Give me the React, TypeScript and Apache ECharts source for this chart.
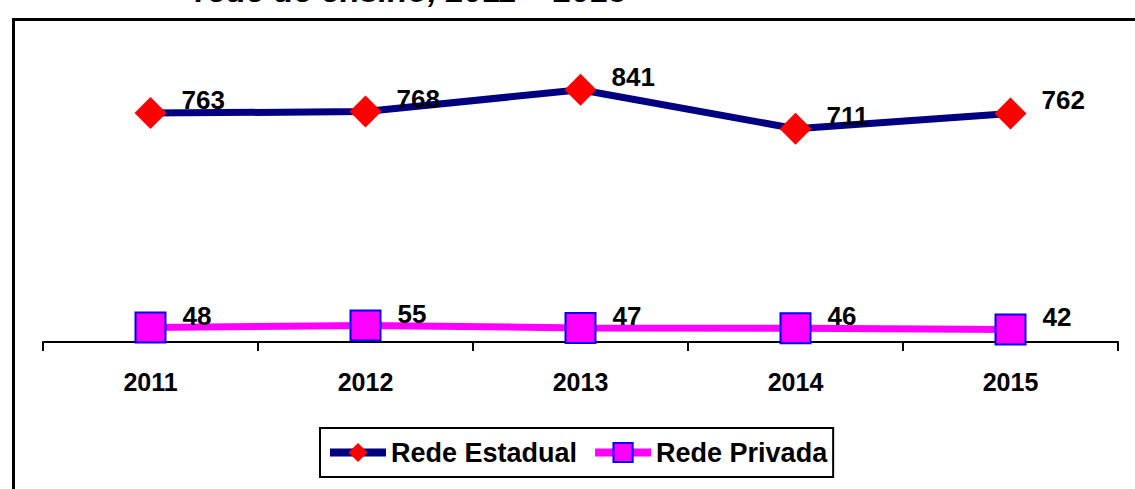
import React, { useEffect, useRef } from "react";
import * as echarts from "echarts";

const years = ["2011", "2012", "2013", "2014", "2015"];
const redeEstadual = [763, 768, 841, 711, 762];
const redePrivada = [48, 55, 47, 46, 42];
const seriesNames = ["Rede Estadual", "Rede Privada"];
const titleText = "rede de ensino, 2011 – 2015";

export default function App() {
  const ref = useRef<HTMLDivElement>(null);
  useEffect(() => {
    if (!ref.current) return;
    const chart = echarts.init(ref.current, null, { renderer: "svg" });
    const labelFont = {
      fontFamily: "Arial, 'Liberation Sans', sans-serif",
      fontWeight: "bold" as const,
      fontSize: 26,
      color: "#000",
    };
    chart.setOption({
      animation: false,
      backgroundColor: "#fff",
      graphic: [
        {
          type: "rect",
          shape: { x: 13.5, y: 19.5, width: 1400, height: 800 },
          style: { fill: "none", stroke: "#000", lineWidth: 3 },
          silent: true,
          z: 0,
        },
        {
          type: "text",
          x: 195,
          y: 7,
          style: {
            text: titleText,
            fill: "#000",
            font: "italic bold 33px Arial, 'Liberation Sans', sans-serif",
            textVerticalAlign: "bottom",
          },
        },
      ],
      grid: { left: 43, right: 17, top: 42, height: 300, containLabel: false },
      xAxis: {
        type: "category",
        data: years,
        boundaryGap: true,
        axisLine: { show: true, lineStyle: { color: "#000", width: 2 } },
        axisTick: { show: true, length: 9, lineStyle: { color: "#000", width: 2 } },
        axisLabel: {
          margin: 27,
          fontFamily: "Arial, 'Liberation Sans', sans-serif",
          fontWeight: "bold",
          fontSize: 25,
          color: "#000",
        },
        splitLine: { show: false },
      },
      yAxis: {
        type: "value",
        min: 0,
        max: 1000,
        show: false,
        splitLine: { show: false },
      },
      legend: {
        data: seriesNames,
        left: 320,
        top: 428,
        orient: "horizontal",
        borderColor: "#000",
        borderWidth: 2,
        padding: [11, 6, 11, 6],
        itemGap: 14,
        itemWidth: 56,
        itemHeight: 24,
        lineStyle: { width: 8 },
        textStyle: { ...labelFont, fontSize: 27 },
      },
      series: [
        {
          name: seriesNames[0],
          type: "line",
          data: redeEstadual,
          symbol: "diamond",
          symbolSize: 32,
          lineStyle: { color: "#000080", width: 7 },
          itemStyle: { color: "#FF0000", borderWidth: 0 },
          label: {
            show: true,
            position: "right",
            distance: 15,
            offset: [0, -13],
            ...labelFont,
          },
          z: 3,
        },
        {
          name: seriesNames[1],
          type: "line",
          data: redePrivada,
          symbol: "rect",
          symbolSize: 30,
          lineStyle: { color: "#FF00FF", width: 7 },
          itemStyle: { color: "#FF00FF", borderColor: "#0000FF", borderWidth: 2 },
          label: {
            show: true,
            position: "right",
            distance: 16,
            offset: [0, -12],
            ...labelFont,
          },
          z: 4,
        },
      ],
    });
    return () => chart.dispose();
  }, []);
  return (
    <div
      ref={ref}
      style={{ position: "absolute", left: 0, top: 0, width: 1135, height: 489 }}
    />
  );
}
